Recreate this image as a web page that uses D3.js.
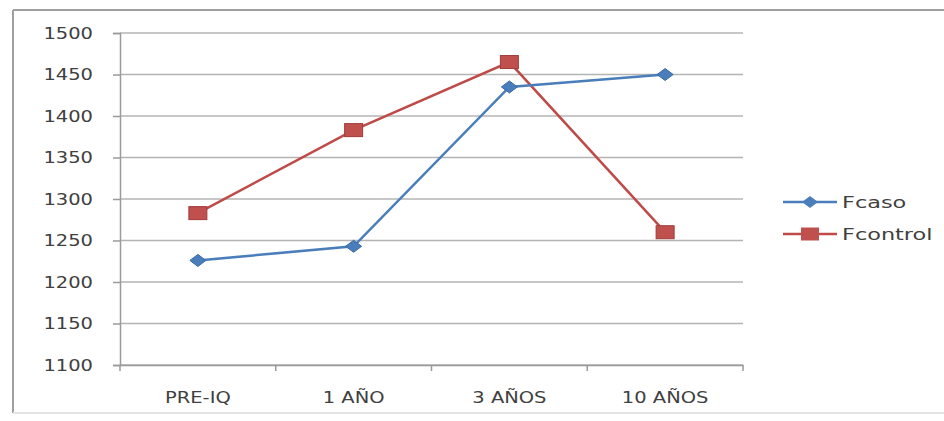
<!DOCTYPE html>
<html><head><meta charset="utf-8">
<script src="https://cdn.jsdelivr.net/npm/d3@7"></script>
<style>
body{margin:0;background:#fff;}
text{font-family:"DejaVu Sans",sans-serif;fill:#404040;}
</style></head>
<body><svg id="c" width="944" height="421"></svg>
<script>
const categories = ["PRE-IQ","1 AÑO","3 AÑOS","10 AÑOS"];
const fcaso = [1226, 1243, 1435, 1450];
const fcontrol = [1283, 1383, 1465, 1260];
const seriesNames = ["Fcaso","Fcontrol"];
const yTicks = [1100,1150,1200,1250,1300,1350,1400,1450,1500];

(function(){
const svg = d3.select("#c");
const W=944,H=421;
// outer frame
svg.append("line").attr("x1",13).attr("x2",W).attr("y1",10).attr("y2",10).attr("stroke","#a0a0a0").attr("stroke-width",2);
svg.append("line").attr("x1",13).attr("x2",13).attr("y1",10).attr("y2",413).attr("stroke","#a0a0a0").attr("stroke-width",2);
svg.append("line").attr("x1",13).attr("x2",W).attr("y1",413).attr("y2",413).attr("stroke","#e4e4e4").attr("stroke-width",2);

const pL=120,pR=743,pT=33,pB=365;
const x = d3.scaleBand().domain(categories).range([pL,pR]);
const y = d3.scaleLinear().domain([1100,1500]).range([pB,pT]);

// gridlines
svg.append("g").selectAll("line").data(yTicks).join("line")
  .attr("x1",pL).attr("x2",pR).attr("y1",d=>y(d)).attr("y2",d=>y(d))
  .attr("stroke","#b4b4b4").attr("stroke-width",1.5);

// y axis
const ya = svg.append("g").attr("transform",`translate(${pL},0)`)
  .call(d3.axisLeft(y).tickValues(yTicks).tickSize(7).tickPadding(0).tickFormat(d3.format("d")));
ya.select(".domain").attr("stroke","#9a9a9a").attr("stroke-width",1.5);
ya.selectAll(".tick line").attr("stroke","#9a9a9a").attr("stroke-width",1.5);
ya.selectAll(".tick text").attr("font-size",15).attr("dy","0.36em")
  .attr("x",null).attr("transform","translate(-27,0) scale(1.3,1)").style("font-family","DejaVu Sans").attr("fill","#404040");

// x axis
const xa = svg.append("g").attr("transform",`translate(0,${pB})`)
  .call(d3.axisBottom(x).tickSize(0).tickPadding(0));
xa.select(".domain").attr("stroke","#9a9a9a").attr("stroke-width",1.5);
xa.selectAll(".tick text").attr("font-size",15).attr("y",null).attr("dy",null)
  .attr("transform","translate(0,38) scale(1.3,1)").style("font-family","DejaVu Sans").attr("fill","#404040");
// category boundary ticks
const bounds = categories.map(c=>x(c)).concat([pR]);
svg.append("g").selectAll("line").data(bounds).join("line")
  .attr("x1",d=>d).attr("x2",d=>d).attr("y1",pB).attr("y2",pB+6)
  .attr("stroke","#9a9a9a").attr("stroke-width",1.5);

const cx = c => x(c)+x.bandwidth()/2;
const line = d3.line().x((d,i)=>cx(categories[i])).y(d=>y(d));
const blue="#4a7ebb", red="#be4b48";

svg.append("path").datum(fcontrol).attr("d",line).attr("fill","none").attr("stroke",red).attr("stroke-width",2.5);
svg.append("path").datum(fcaso).attr("d",line).attr("fill","none").attr("stroke",blue).attr("stroke-width",2.5);

const diamond = (px,py)=>`M${px-8},${py}L${px},${py-6}L${px+8},${py}L${px},${py+6}Z`;
svg.append("g").selectAll("path").data(fcaso).join("path")
  .attr("d",(d,i)=>diamond(cx(categories[i]),y(d))).attr("fill",blue).attr("stroke","#3a6aa5").attr("stroke-width",1);
svg.append("g").selectAll("rect").data(fcontrol).join("rect")
  .attr("x",(d,i)=>cx(categories[i])-9).attr("y",d=>y(d)-6.5).attr("width",18).attr("height",13)
  .attr("fill","#c0504d").attr("stroke","#a03c39").attr("stroke-width",1);

// legend
const lg = svg.append("g");
const ly = [202,234];
seriesNames.forEach((n,i)=>{
  const col = i===0?blue:red;
  lg.append("line").attr("x1",783).attr("x2",837).attr("y1",ly[i]).attr("y2",ly[i]).attr("stroke",col).attr("stroke-width",2.5);
  if(i===0) lg.append("path").attr("d",diamond(810,ly[i])).attr("fill",blue);
  else lg.append("rect").attr("x",801).attr("y",ly[i]-6.5).attr("width",18).attr("height",13).attr("fill","#c0504d");
  lg.append("text").attr("transform",`translate(842,${ly[i]}) scale(1.4,1)`).attr("dy","0.36em")
    .attr("font-size",16).text(n);
});
})();
</script></body></html>
